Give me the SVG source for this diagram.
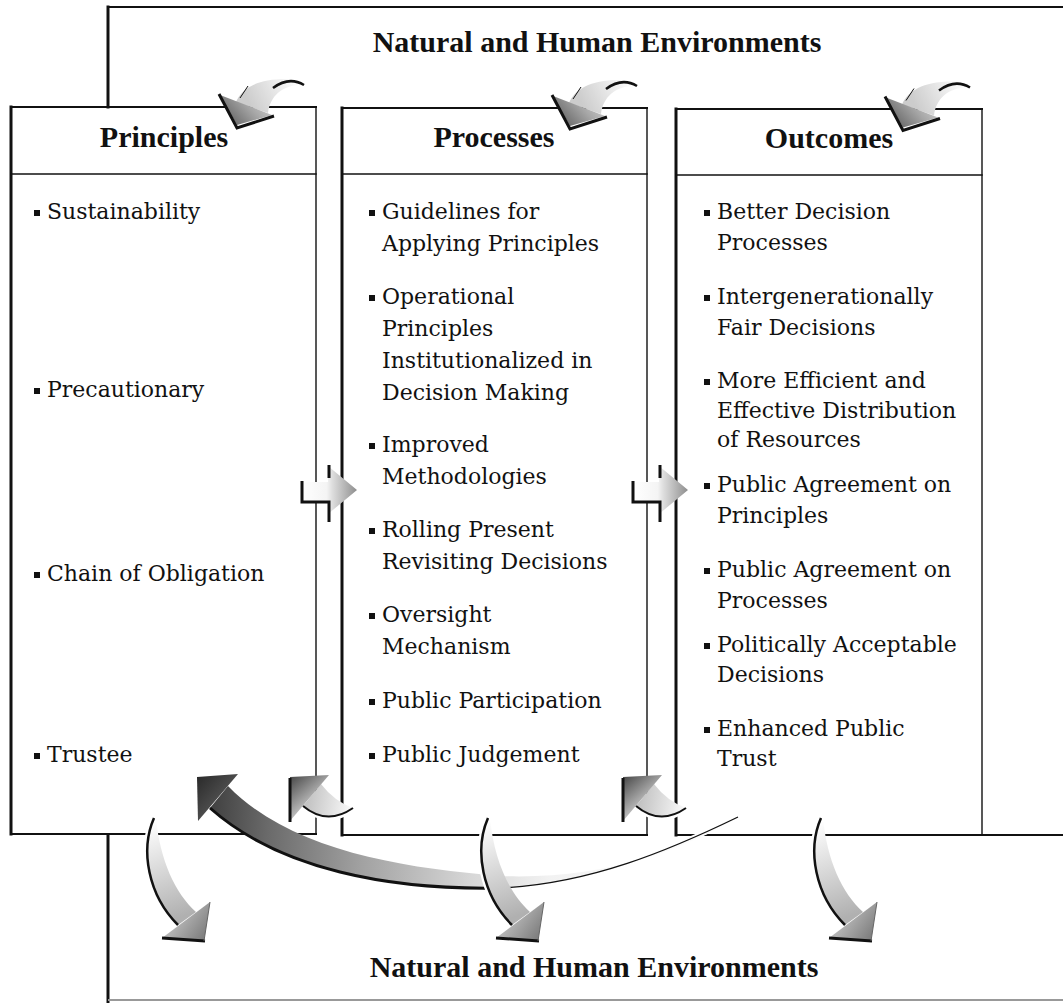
<svg xmlns="http://www.w3.org/2000/svg" width="1063" height="1003" viewBox="0 0 1063 1003">
<defs>
<style>
.ln{stroke:#111;fill:none;stroke-linecap:square}
.thick{stroke-width:3}
.med{stroke-width:2}
.thin{stroke-width:1.4}
.hd{font-family:"Liberation Serif",serif;font-weight:bold;font-size:30px;fill:#111;text-anchor:middle}
.tx{font-family:"DejaVu Serif",serif;font-size:22px;fill:#111}
.bl{fill:#111}
.sh{stroke:#111;fill:none;stroke-width:3}
.halo{stroke:#fff;fill:none;stroke-width:7}
</style>
<linearGradient id="gTop" gradientUnits="userSpaceOnUse" x1="232" y1="122" x2="266" y2="92"><stop offset="0" stop-color="#6c6c6c"/><stop offset="0.5" stop-color="#a6a6a6"/><stop offset="1" stop-color="#d6d6d6"/></linearGradient>
<linearGradient id="gTopShaft" gradientUnits="userSpaceOnUse" x1="250" y1="105" x2="298" y2="80"><stop offset="0" stop-color="#cccccc"/><stop offset="1" stop-color="#ffffff"/></linearGradient>
<linearGradient id="gMid" gradientUnits="userSpaceOnUse" x1="302" y1="490" x2="357" y2="490"><stop offset="0" stop-color="#ffffff"/><stop offset="0.45" stop-color="#f4f4f4"/><stop offset="0.55" stop-color="#dedede"/><stop offset="1" stop-color="#8e8e8e"/></linearGradient>
<linearGradient id="gUl" gradientUnits="userSpaceOnUse" x1="290" y1="777" x2="314" y2="805"><stop offset="0" stop-color="#484848"/><stop offset="1" stop-color="#cacaca"/></linearGradient>
<linearGradient id="gUlShaft" gradientUnits="userSpaceOnUse" x1="305" y1="800" x2="352" y2="808"><stop offset="0" stop-color="#c0c0c0"/><stop offset="1" stop-color="#fafafa"/></linearGradient>
<linearGradient id="gDr" gradientUnits="userSpaceOnUse" x1="172" y1="914" x2="205" y2="938"><stop offset="0" stop-color="#c4c4c4"/><stop offset="1" stop-color="#7c7c7c"/></linearGradient>
<linearGradient id="gDrShaft" gradientUnits="userSpaceOnUse" x1="152" y1="822" x2="186" y2="915"><stop offset="0" stop-color="#ffffff"/><stop offset="1" stop-color="#b0b0b0"/></linearGradient>
<linearGradient id="gBig" gradientUnits="userSpaceOnUse" x1="205" y1="800" x2="740" y2="830"><stop offset="0" stop-color="#3c3c3c"/><stop offset="0.12" stop-color="#6a6a6a"/><stop offset="0.3" stop-color="#a2a2a2"/><stop offset="0.5" stop-color="#d6d6d6"/><stop offset="0.65" stop-color="#f2f2f2"/><stop offset="1" stop-color="#ffffff"/></linearGradient>
<linearGradient id="gBigHead" gradientUnits="userSpaceOnUse" x1="198" y1="778" x2="228" y2="804"><stop offset="0" stop-color="#2c2c2c"/><stop offset="1" stop-color="#585858"/></linearGradient>

<g id="topArrow">
<path d="M236,102 C242,88 258,78 290,79 L304,85 C284,84 270,95 268,113 Z" fill="url(#gTopShaft)"/>
<polygon points="220,95 237,125 272,115" fill="url(#gTop)"/>
<polyline points="219,94 237,128 274,116" class="sh" stroke-width="3.5"/>
<path d="M273,88 Q289,76 304,85" stroke="#111" stroke-width="2.5" fill="none"/>
<path d="M240,98 L248,86" stroke="#111" stroke-width="1" fill="none"/>
</g>
<g id="midArrow">
<polygon points="302,482 328,482 328,466 357,490 328,514 328,502 302,502" fill="url(#gMid)"/>
<polyline points="302,481 302,502 329,502 329,522" class="sh" stroke-width="2.5"/>
<line x1="329" y1="465" x2="329" y2="478" class="sh" stroke-width="2.5"/>
</g>
<g id="ulArrow">
<path d="M303,806 Q327,826 353,808" class="halo"/>
<path d="M303,806 Q327,826 353,808 Q334,801 321,784 Z" fill="url(#gUlShaft)"/>
<polygon points="290,777 329,775 290,821" fill="url(#gUl)"/>
<line x1="290" y1="778" x2="290" y2="822" class="sh"/>
<path d="M303,806 Q327,826 353,808" stroke="#111" stroke-width="2" fill="none"/>
</g>
<g id="drArrow">
<path d="M154,818 C140,850 148,895 178,925" class="halo"/>
<path d="M154,818 C140,850 148,895 178,925 L196,912 C175,893 160,860 156,818 Z" fill="url(#gDrShaft)"/>
<polygon points="162,938 210,902 204,941" fill="url(#gDr)"/>
<path d="M154,818 C140,850 148,895 178,925" stroke="#111" stroke-width="2.5" fill="none"/>
<line x1="162" y1="938" x2="205" y2="941" class="sh"/>
<line x1="210" y1="902" x2="204" y2="941" stroke="#666" stroke-width="1"/>
</g>
</defs>

<rect width="1063" height="1003" fill="#fff"/>

<g id="environment">
<line x1="108" y1="7" x2="1063" y2="7" class="ln med"/>
<line x1="108" y1="7" x2="108" y2="107" class="ln thick"/>
<line x1="108" y1="835" x2="108" y2="1003" class="ln thick"/>
<line x1="108" y1="1000" x2="1063" y2="1000" stroke="#999" stroke-width="2"/>
<text x="597" y="52" class="hd">Natural and Human Environments</text>
<text x="594" y="977" class="hd">Natural and Human Environments</text>
</g>

<g id="principles">
<line x1="11" y1="107" x2="316" y2="107" class="ln med"/>
<line x1="11" y1="107" x2="11" y2="834" class="ln thick"/>
<line x1="316" y1="107" x2="316" y2="834" class="ln thin"/>
<line x1="11" y1="174" x2="316" y2="174" class="ln thin"/>
<line x1="11" y1="834" x2="316" y2="834" class="ln med"/>
<text x="164" y="147" class="hd">Principles</text>
<rect x="34" y="210" width="6" height="6" class="bl"/><text x="47" y="219" class="tx">Sustainability</text>
<rect x="34" y="388" width="6" height="6" class="bl"/><text x="47" y="397" class="tx">Precautionary</text>
<rect x="34" y="572" width="6" height="6" class="bl"/><text x="47" y="581" class="tx">Chain of Obligation</text>
<rect x="34" y="753" width="6" height="6" class="bl"/><text x="47" y="762" class="tx">Trustee</text>
</g>

<g id="processes">
<line x1="342" y1="108" x2="647" y2="108" class="ln med"/>
<line x1="342" y1="108" x2="342" y2="835" class="ln thick"/>
<line x1="647" y1="108" x2="647" y2="835" class="ln thin"/>
<line x1="342" y1="174" x2="647" y2="174" class="ln thin"/>
<line x1="342" y1="835" x2="647" y2="835" class="ln med"/>
<text x="494" y="147" class="hd">Processes</text>
<rect x="369" y="210" width="6" height="6" class="bl"/><text x="382" y="219" class="tx">Guidelines for</text>
<text x="382" y="251" class="tx">Applying Principles</text>
<rect x="369" y="295" width="6" height="6" class="bl"/><text x="382" y="304" class="tx">Operational</text>
<text x="382" y="336" class="tx">Principles</text>
<text x="382" y="368" class="tx">Institutionalized in</text>
<text x="382" y="400" class="tx">Decision Making</text>
<rect x="369" y="443" width="6" height="6" class="bl"/><text x="382" y="452" class="tx">Improved</text>
<text x="382" y="484" class="tx">Methodologies</text>
<rect x="369" y="528" width="6" height="6" class="bl"/><text x="382" y="537" class="tx">Rolling Present</text>
<text x="382" y="569" class="tx">Revisiting Decisions</text>
<rect x="369" y="613" width="6" height="6" class="bl"/><text x="382" y="622" class="tx">Oversight</text>
<text x="382" y="654" class="tx">Mechanism</text>
<rect x="369" y="699" width="6" height="6" class="bl"/><text x="382" y="708" class="tx">Public Participation</text>
<rect x="369" y="753" width="6" height="6" class="bl"/><text x="382" y="762" class="tx">Public Judgement</text>
</g>

<g id="outcomes">
<line x1="676" y1="109" x2="982" y2="109" class="ln med"/>
<line x1="676" y1="109" x2="676" y2="835" class="ln thick"/>
<line x1="982" y1="109" x2="982" y2="835" class="ln thin"/>
<line x1="676" y1="175" x2="982" y2="175" class="ln thin"/>
<line x1="676" y1="835" x2="1063" y2="835" class="ln med"/>
<text x="829" y="148" class="hd">Outcomes</text>
<rect x="704" y="210" width="6" height="6" class="bl"/><text x="717" y="219" class="tx">Better Decision</text>
<text x="717" y="250" class="tx">Processes</text>
<rect x="704" y="295" width="6" height="6" class="bl"/><text x="717" y="304" class="tx">Intergenerationally</text>
<text x="717" y="335" class="tx">Fair Decisions</text>
<rect x="704" y="379" width="6" height="6" class="bl"/><text x="717" y="388" class="tx">More Efficient and</text>
<text x="717" y="418" class="tx">Effective Distribution</text>
<text x="717" y="447" class="tx">of Resources</text>
<rect x="704" y="483" width="6" height="6" class="bl"/><text x="717" y="492" class="tx">Public Agreement on</text>
<text x="717" y="523" class="tx">Principles</text>
<rect x="704" y="568" width="6" height="6" class="bl"/><text x="717" y="577" class="tx">Public Agreement on</text>
<text x="717" y="608" class="tx">Processes</text>
<rect x="704" y="643" width="6" height="6" class="bl"/><text x="717" y="652" class="tx">Politically Acceptable</text>
<text x="717" y="682" class="tx">Decisions</text>
<rect x="704" y="727" width="6" height="6" class="bl"/><text x="717" y="736" class="tx">Enhanced Public</text>
<text x="717" y="766" class="tx">Trust</text>
</g>

<g id="connectors">
<use href="#topArrow"/>
<use href="#topArrow" transform="translate(333,1)"/>
<use href="#topArrow" transform="translate(666,2.5)"/>
<use href="#midArrow"/>
<use href="#midArrow" transform="translate(331,0)"/>
<use href="#ulArrow"/>
<use href="#ulArrow" transform="translate(333,0)"/>
<g id="feedbackArrow">
<path d="M500,888 C590,884 670,850 738,817" stroke="#fff" stroke-width="5" fill="none"/>
<path d="M228,786 C290,850 400,868 500,876 C600,880 680,852 738,817 C670,850 590,884 500,888 C390,890 280,870 210,808 Z" fill="url(#gBig)"/>
<polygon points="197,777 238,774 198,821" fill="url(#gBigHead)"/>
<path d="M210,808 C280,870 390,890 500,888" stroke="#111" stroke-width="3" fill="none"/>
<path d="M500,888 C590,884 670,850 738,817" stroke="#111" stroke-width="1.3" fill="none"/>
</g>
<use href="#drArrow"/>
<use href="#drArrow" transform="translate(334,0)"/>
<use href="#drArrow" transform="translate(667,0)"/>
</g>
</svg>
